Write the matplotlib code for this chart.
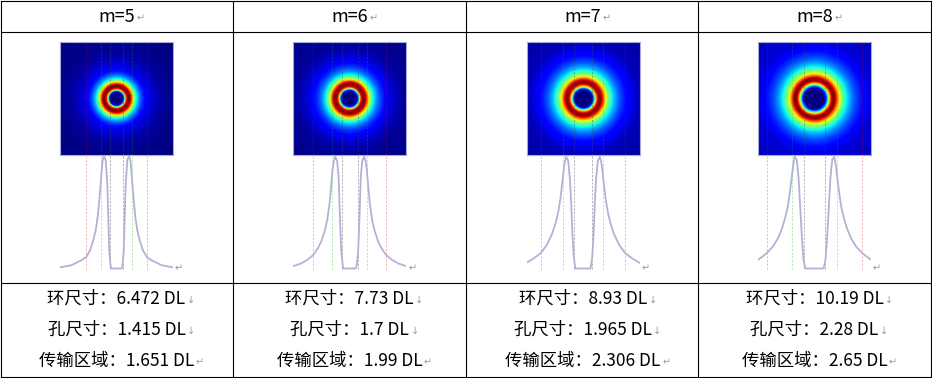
import numpy as np
import matplotlib
matplotlib.use("Agg")
import matplotlib.pyplot as plt
from matplotlib.lines import Line2D

plt.rcParams['font.family'] = ['Noto Sans CJK SC', 'DejaVu Sans']

# ---------------- data ----------------
m_values = [5, 6, 7, 8]
ring_size = [6.472, 7.73, 8.93, 10.19]     # DL
hole_size = [1.415, 1.7, 1.965, 2.28]      # DL
transfer = [1.651, 1.99, 2.306, 2.65]      # DL
peak_span = [3.19, 3.72, 4.30, 4.86]       # DL, green marker lines (diameter)

row_labels = ['环尺寸：', '孔尺寸：', '传输区域：']

# radial intensity profiles (r in DL, normalized intensity)
prof_r_m5 = [0.0, 0.51, 0.62, 0.77, 0.87, 0.98, 1.15, 1.33, 1.47, 1.57, 1.68, 1.83,
             2.00, 2.21, 2.47, 2.82, 3.24, 3.70, 4.77, 6.01, 8.5]
prof_i_m5 = [0.0, 0.0, 0.015, 0.16, 0.46, 0.76, 0.97, 1.0, 0.97, 0.88, 0.76, 0.61,
             0.46, 0.34, 0.25, 0.16, 0.10, 0.075, 0.03, 0.01, 0.0]
prof_r_m6 = [0.0, 0.62, 0.72, 0.90, 1.04, 1.18, 1.33, 1.54, 1.71, 1.82, 1.97, 2.14,
             2.39, 2.67, 3.03, 3.38, 3.88, 4.45, 5.16, 6.04, 8.5]
prof_i_m6 = [0.0, 0.0, 0.015, 0.16, 0.46, 0.82, 0.96, 1.0, 0.95, 0.88, 0.73, 0.58,
             0.43, 0.33, 0.24, 0.18, 0.12, 0.08, 0.045, 0.02, 0.01]
prof_r_m7 = [0.0, 0.80, 0.98, 1.12, 1.26, 1.40, 1.57, 1.79, 2.00, 2.18, 2.39, 2.64,
             2.93, 3.28, 3.81, 4.45, 5.23, 6.01, 8.5]
prof_i_m7 = [0.0, 0.0, 0.10, 0.30, 0.60, 0.81, 0.96, 1.0, 0.92, 0.78, 0.63, 0.50,
             0.40, 0.31, 0.215, 0.14, 0.09, 0.05, 0.03]
prof_r_m8 = [0.0, 0.85, 0.99, 1.17, 1.35, 1.52, 1.70, 1.88, 2.10, 2.27, 2.41, 2.63,
             2.84, 3.12, 3.48, 3.94, 4.47, 5.11, 5.96, 8.5]
prof_i_m8 = [0.0, 0.0, 0.006, 0.08, 0.29, 0.55, 0.82, 0.97, 1.0, 0.92, 0.82, 0.67,
             0.55, 0.45, 0.35, 0.26, 0.19, 0.134, 0.08, 0.05]

profiles_r = [prof_r_m5, prof_r_m6, prof_r_m7, prof_r_m8]
profiles_i = [prof_i_m5, prof_i_m6, prof_i_m7, prof_i_m8]

# ---------------- layout ----------------
W, H = 932, 378
fig = plt.figure(figsize=(W / 100, H / 100), dpi=100)

bg = fig.add_axes([0, 0, 1, 1])
bg.set_xlim(0, W)
bg.set_ylim(H, 0)
bg.axis('off')

col_x = [0.5, 233, 466, 698, 931]
row_y = [0.5, 32, 283, 377]
lc = 'black'
for x in col_x:
    bg.add_line(Line2D([x, x], [row_y[0], row_y[-1]], color=lc, lw=0.8))
for y in row_y:
    bg.add_line(Line2D([col_x[0], col_x[-1]], [y, y], color=lc, lw=0.8))

centers = [116.5, 349.7, 583.0, 814.5]
MARK = '#9a9a9a'


def put(x, y, s, mark, size=12):
    t = bg.text(x, y, s, ha='center', va='center', fontsize=size, color='black')
    bg.annotate(mark, xy=(1, 0.12), xycoords=t, xytext=(1, 0), textcoords='offset points',
                ha='left', va='bottom', fontsize=7, color=MARK,
                family=['DejaVu Sans'])
    return t


half = 56.5          # px half width of image
ext = 6.0            # DL half width
img_top, img_bot = 42, 155
prof_top, prof_bot = 155, 270
zero_px, peak_px = 268.5, 156.5
scale = peak_px - zero_px

# (colour over image, alpha over image, colour over white)
line_specs = [((1, 0, 0), 0.3, '#f0b4b4'),
              ((0, 0.75, 0), 0.3, '#b4e8b4'),
              ((0.3, 0.3, 0.3), 0.45, '#b0b0b0')]
DASH = (0, (2.2, 1.6))

for k, c in enumerate(centers):
    # header
    put(c, 16.5, f"m={m_values[k]}", '↵', size=13)
    # text rows
    vals = [ring_size[k], hole_size[k], transfer[k]]
    marks = ['↓', '↓', '↵']
    for j, yy in enumerate([298.5, 329.5, 360.5]):
        put(c, yy, f"{row_labels[j]}{vals[j]} DL", marks[j], size=12.5)

    r_arr = np.array(profiles_r[k])
    i_arr = np.array(profiles_i[k])

    # image axes
    x0 = (c - half) / W
    axi = fig.add_axes([x0, 1 - img_bot / H, 2 * half / W, (img_bot - img_top) / H])
    g = np.linspace(-ext, ext, 241)
    X, Y = np.meshgrid(g, g)
    R = np.hypot(X, Y)
    I = np.interp(R, r_arr, i_arr)
    axi.imshow(I, cmap='jet', vmin=0, vmax=1, extent=[-ext, ext, -ext, ext],
               interpolation='bilinear', aspect='auto')
    axi.set_xlim(-ext, ext)
    axi.set_ylim(-ext, ext)
    axi.set_xticks([])
    axi.set_yticks([])
    for sp in axi.spines.values():
        sp.set_color('#a8a8d8')
        sp.set_linewidth(0.8)

    # profile axes
    axp = fig.add_axes([x0, 1 - prof_bot / H, 2 * half / W, (prof_bot - prof_top) / H])
    axp.set_xlim(-ext, ext)
    axp.set_ylim((prof_bot - zero_px) / scale, (prof_top - zero_px) / scale)
    axp.axis('off')

    positions = [ring_size[k] / 2, peak_span[k] / 2, hole_size[k] / 2]
    for (col, a, wcol), p in zip(line_specs, positions):
        for s in (-1, 1):
            axi.axvline(s * p, color=col, alpha=a, lw=0.7, ls=DASH)
            axp.plot([s * p, s * p], [-0.005, 1.02], color=wcol, lw=0.7, ls=DASH)

    xs = np.concatenate([-r_arr[::-1], r_arr])
    ys = np.concatenate([i_arr[::-1], i_arr])
    axp.plot(xs, ys, color='#b2b2d6', lw=1.3, solid_capstyle='round', zorder=3)

    # paragraph mark after the curve
    bg.text(c + half + 2, 268.5, '↵', ha='left', va='center', fontsize=7,
            color=MARK, family=['DejaVu Sans'])

fig.savefig('out.png', dpi=100)
